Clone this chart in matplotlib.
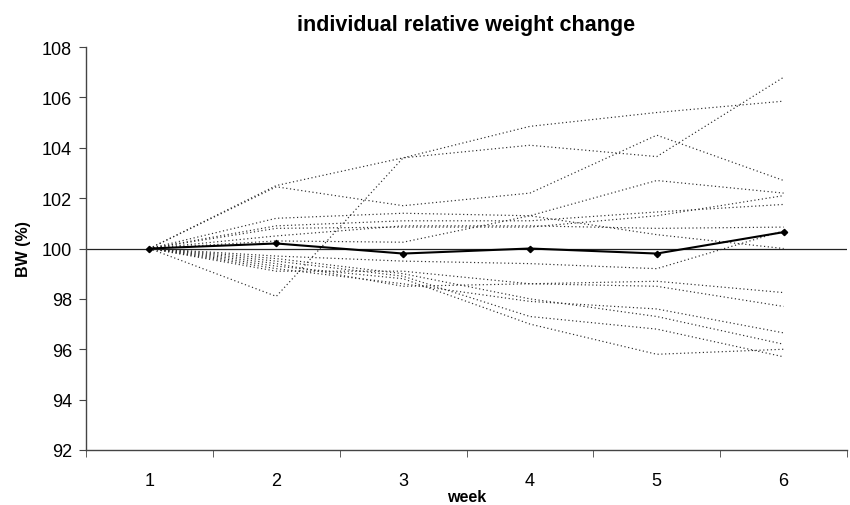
import numpy as np
import matplotlib.pyplot as plt

weeks = [1, 2, 3, 4, 5, 6]

# individual animals, BW relative to week 1 (%)
bw_a = [100, 102.5, 103.6, 104.85, 105.4, 105.85]
bw_b = [100, 98.1, 103.6, 104.1, 103.65, 106.8]
bw_c = [100, 102.45, 101.7, 102.2, 104.5, 102.7]
bw_e = [100, 101.2, 101.4, 101.3, 102.7, 102.2]
bw_f = [100, 100.9, 101.1, 101.1, 101.45, 101.75]
bw_g = [100, 100.8, 100.85, 100.85, 101.3, 102.1]
bw_h = [100, 100.5, 100.9, 100.9, 100.8, 100.85]
bw_j = [100, 100.3, 100.25, 101.3, 100.55, 100.0]
bw_i = [100, 99.7, 99.5, 99.4, 99.2, 100.7]
bw_l = [100, 99.3, 98.8, 97.0, 95.8, 96.0]
bw_m = [100, 99.5, 98.9, 97.3, 96.8, 95.7]
bw_n = [100, 99.6, 99.0, 98.0, 97.3, 96.2]
bw_o = [100, 99.2, 98.6, 97.9, 97.6, 96.65]
bw_p = [100, 99.4, 98.5, 98.6, 98.5, 97.7]
bw_q = [100, 99.1, 99.1, 98.6, 98.7, 98.25]

# group mean
bw_mean = [100, 100.2, 99.8, 100.0, 99.8, 100.65]

individuals = [bw_a, bw_b, bw_c, bw_e, bw_f, bw_g, bw_h, bw_j,
               bw_i, bw_l, bw_m, bw_n, bw_o, bw_p, bw_q]

plt.rcParams['font.family'] = ['Liberation Sans', 'DejaVu Sans']

fig = plt.figure(figsize=(8.5, 5.06), dpi=100)
ax = fig.add_axes([0.1012, 0.1087, 0.8953, 0.7964])

for bw in individuals:
    ax.plot(weeks, bw, color='#2a2a2a', linewidth=0.85, linestyle=(0, (1, 2.2)))

ax.axhline(100, color='#222222', linewidth=0.9)
ax.plot(weeks, bw_mean, color='black', linewidth=1.5, marker='D', markersize=3.2)

ax.set_xlim(0.5, 6.5)
ax.set_ylim(92, 108)
ax.set_yticks(np.arange(92, 109, 2))
ax.set_xticks(weeks)
ax.set_xticks(np.arange(0.5, 6.6, 1), minor=True)

for s in ['top', 'right']:
    ax.spines[s].set_visible(False)
for s in ['left', 'bottom']:
    ax.spines[s].set_color('#444444')
    ax.spines[s].set_linewidth(1.0)

ax.tick_params(axis='y', direction='out', length=5, color='#444444', labelsize=13, pad=5)
ax.tick_params(axis='x', which='major', length=0, labelsize=13, pad=16)
ax.tick_params(axis='x', which='minor', direction='out', length=5, color='#444444')

ax.set_title('individual relative weight change', fontsize=15.5, fontweight='bold', pad=12)
ax.set_xlabel('week', fontsize=11.5, fontweight='bold', labelpad=0)
ax.set_ylabel('BW (%)', fontsize=11.5, fontweight='bold', labelpad=8)

fig.savefig('out.png', dpi=100)
